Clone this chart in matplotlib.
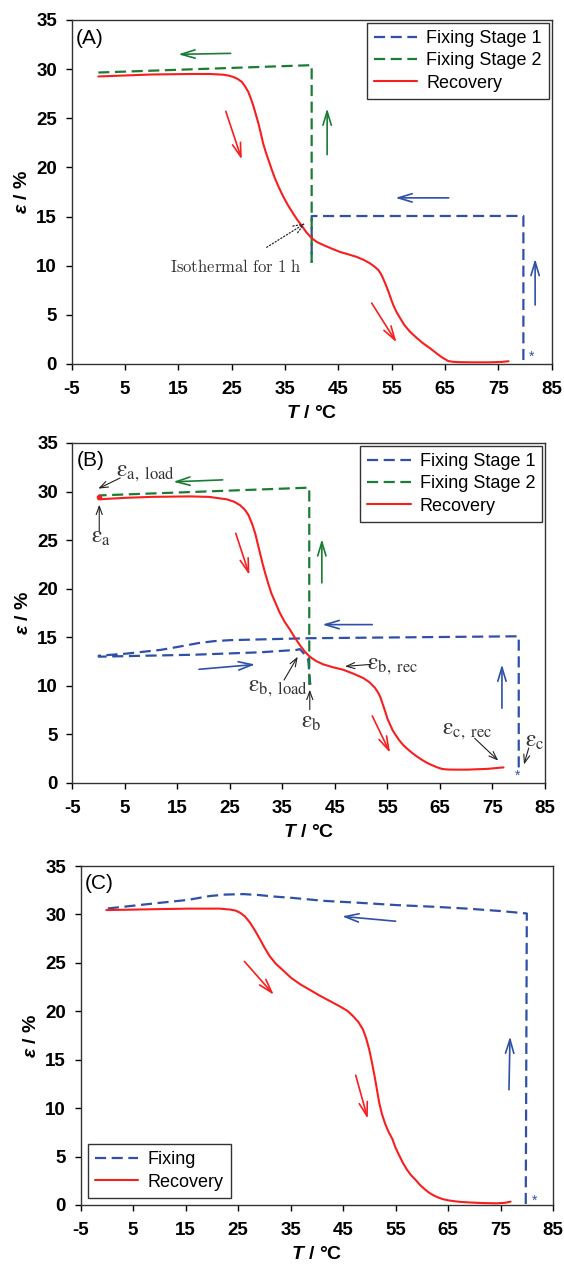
import matplotlib
matplotlib.use("Agg")
import matplotlib.pyplot as plt

plt.rcParams['font.family'] = ['Liberation Sans', 'DejaVu Sans']
plt.rcParams['axes.unicode_minus'] = False
plt.rcParams['mathtext.fontset'] = 'custom'
plt.rcParams['mathtext.rm'] = 'Liberation Sans:bold'
plt.rcParams['mathtext.it'] = 'Liberation Sans:italic:bold'
plt.rcParams['mathtext.bf'] = 'Liberation Sans:bold'

BLUE = '#3050A8'
GREEN = '#1B7C34'
RED = '#F81E1E'

# ---- panel A ----
a_fix1_T = [79.7, 79.7, 40, 40]
a_fix1_e = [0.4, 15.06, 15.05, 10.3]
a_fix2_T = [40, 40, 0]
a_fix2_e = [10.3, 30.4, 29.65]
a_rec_T = [0, 5, 10, 17.2, 21, 23.4, 24.5, 25.3, 26.1, 26.9, 27.5, 28.1, 28.6, 29.1,
           29.55, 30.0, 30.45, 30.9, 31.4, 31.9, 32.5, 33.1, 33.9, 34.7, 35.5, 36.3,
           37.2, 38.1, 39.0, 40.0, 41.0, 42.2, 43.7, 45.3, 46.9, 48.4, 49.7, 50.9,
           51.8, 52.5, 53.0, 53.4, 53.9, 54.4, 54.85, 55.3, 55.9, 56.6, 57.4, 58.4,
           59.6, 60.9, 62.2, 63.4, 64.5, 65.6, 66.5, 67.5, 69.7, 73.4, 75.5, 76.9]
a_rec_e = [29.25, 29.35, 29.45, 29.5, 29.5, 29.43, 29.33, 29.2, 29.0, 28.7, 28.25, 27.7,
           27.0, 26.2, 25.35, 24.5, 23.5, 22.45, 21.55, 20.75, 19.8, 18.9, 17.9, 17.0,
           16.2, 15.5, 14.75, 14.1, 13.4, 12.8, 12.4, 12.1, 11.75, 11.4, 11.15, 10.9,
           10.6, 10.25, 9.9, 9.56, 9.15, 8.7, 8.05, 7.36, 6.65, 6.0, 5.3, 4.65, 3.95,
           3.3, 2.7, 2.1, 1.6, 1.09, 0.65, 0.3, 0.22, 0.19, 0.17, 0.17, 0.2, 0.28]

# ---- panel B ----
b_fix1_T = [80, 80, 40, 25, 22, 19, 15, 11.8, 5, 0, 0, 18.1, 30.7, 37.7, 38.3, 39.0,
            39.9, 40.3]
b_fix1_e = [1.6, 15.1, 14.9, 14.7, 14.6, 14.4, 14.0, 13.7, 13.3, 13.1, 13.0, 13.2, 13.45,
            13.7, 13.78, 13.37, 12.7, 10.1]
b_fix2_T = [40.1, 40.1, 0]
b_fix2_e = [10.1, 30.4, 29.6]
b_rec_T = [0, 5, 10, 17.4, 21, 24.4, 25.8, 26.9, 27.8, 28.5, 29.2, 29.8, 30.25, 30.7,
           31.2, 31.7, 32.3, 32.9, 33.7, 34.5, 35.4, 36.4, 37.3, 38.3, 39.2, 40.2,
           41.4, 42.8, 44.7, 46.6, 48.5, 50.4, 51.6, 52.6, 53.1, 53.6, 54.1, 54.6,
           55.0, 55.5, 56.0, 56.6, 57.3, 58.0, 58.9, 59.9, 60.8, 61.8, 62.6, 63.4,
           64.4, 65.4, 66.5, 68, 70.2, 74, 77.1]
b_rec_e = [29.2, 29.35, 29.45, 29.5, 29.45, 29.2, 28.95, 28.6, 28.15, 27.6, 26.7, 25.7,
           24.7, 23.7, 22.6, 21.6, 20.5, 19.5, 18.5, 17.5, 16.6, 15.8, 15.0, 14.2,
           13.55, 13.0, 12.55, 12.2, 11.9, 11.65, 11.25, 10.8, 10.35, 9.8, 9.4, 8.9,
           8.1, 7.3, 6.6, 6.0, 5.4, 4.9, 4.35, 3.9, 3.45, 3.0, 2.65, 2.3, 2.05, 1.85,
           1.62, 1.44, 1.38, 1.37, 1.37, 1.45, 1.6]

# ---- panel C ----
c_fix_T = [79.8, 80, 75, 68.7, 62, 55.0, 48.2, 41.4, 35.5, 31.8, 29, 26.0, 22.5, 19.6,
           15.4, 10.1, 5, -0.1]
c_fix_e = [0.1, 30.1, 30.35, 30.6, 30.8, 30.97, 31.2, 31.4, 31.7, 31.85, 32.0, 32.1,
           32.05, 31.9, 31.5, 31.2, 30.9, 30.6]
c_rec_T = [-0.1, 5, 10, 15.8, 21.5, 23.5, 24.5, 25.3, 26.3, 27.2, 28.2, 29.1, 30.0, 31.0,
           32.2, 33.6, 35.1, 36.8, 38.7, 40.6, 42.5, 44.4, 45.8, 46.9, 47.9, 48.8,
           49.4, 50.0, 50.5, 51.0, 51.45, 51.9, 52.4, 53.0, 53.7, 54.4, 55.0, 55.7,
           56.4, 57.1, 57.9, 58.8, 59.6, 60.5, 61.3, 62.2, 63.0, 63.9, 65.0, 66.0,
           67.3, 68.7, 71.5, 74.2, 75.8, 76.9]
c_rec_e = [30.45, 30.5, 30.55, 30.6, 30.6, 30.5, 30.4, 30.2, 29.8, 29.2, 28.35, 27.5,
           26.6, 25.7, 24.9, 24.2, 23.45, 22.8, 22.2, 21.6, 21.05, 20.5, 20.05, 19.5,
           18.9, 18.1, 17.2, 16.0, 14.7, 13.3, 11.9, 10.5, 9.4, 8.4, 7.5, 6.8, 5.9,
           5.1, 4.35, 3.7, 3.1, 2.6, 2.1, 1.65, 1.3, 1.0, 0.8, 0.62, 0.48, 0.4, 0.32,
           0.27, 0.2, 0.17, 0.22, 0.34]

x_ticks = list(range(-5, 90, 10))
y_ticks = list(range(0, 40, 5))

# arrows: (tail, tip, colour)
a_arrows = [((24.8, 31.6), (15.0, 31.5), GREEN), ((42.9, 21.3), (42.9, 26.0), GREEN),
            ((23.9, 25.7), (26.9, 20.8), RED), ((65.7, 16.9), (55.7, 16.9), BLUE),
            ((81.9, 6.0), (81.9, 10.7), BLUE), ((51.25, 6.2), (55.9, 2.2), RED)]
b_arrows = [((23.6, 31.2), (14.2, 31.0), GREEN), ((42.5, 20.6), (42.5, 25.1), GREEN),
            ((26.1, 25.7), (28.7, 21.4), RED), ((52.1, 16.3), (42.6, 16.3), BLUE),
            ((19.1, 11.7), (29.8, 12.2), BLUE), ((52.1, 6.9), (55.5, 3.1), RED),
            ((76.8, 7.7), (76.8, 12.2), BLUE)]
c_arrows = [((55.0, 29.3), (44.8, 29.8), BLUE), ((26.2, 25.15), (31.8, 21.7), RED),
            ((47.4, 13.4), (49.7, 8.9), RED), ((76.6, 11.9), (76.8, 17.4), BLUE)]

# labels in panel B: (text, text pos, arrow tail, arrow tip)
b_notes = [(r'$\mathrm{\varepsilon}_{\mathrm{a,\ load}}$', (9.0, 31.9), (4.1, 31.4), (-0.1, 30.3)),
           (r'$\mathrm{\varepsilon}_{\mathrm{a}}$', (0.4, 25.3), (0.1, 25.9), (0.1, 28.65)),
           (r'$\mathrm{\varepsilon}_{\mathrm{b,\ load}}$', (34.2, 9.8), (35.3, 10.6), (37.9, 13.0)),
           (r'$\mathrm{\varepsilon}_{\mathrm{b}}$', (40.4, 6.3), (40.2, 7.55), (40.2, 9.6)),
           (r'$\mathrm{\varepsilon}_{\mathrm{b,\ rec}}$', (56.0, 12.0), (51.7, 12.2), (46.9, 12.0)),
           (r'$\mathrm{\varepsilon}_{\mathrm{c,\ rec}}$', (70.2, 5.3), (71.6, 4.6), (76.1, 2.3)),
           (r'$\mathrm{\varepsilon}_{\mathrm{c}}$', (83.0, 4.3), (81.9, 3.6), (81.0, 1.9))]


def style_axes(ax, letter):
    ax.set_xlim(-5, 85)
    ax.set_ylim(0, 35)
    ax.set_xticks(x_ticks)
    ax.set_yticks(y_ticks)
    ax.tick_params(direction='out', length=4.5, width=1, labelsize=13.5)
    ax.tick_params(axis='x', pad=8)
    ax.tick_params(axis='y', pad=6)
    for lab in ax.get_xticklabels() + ax.get_yticklabels():
        lab.set_fontweight('bold')
    for sp in ax.spines.values():
        sp.set_color('#333333')
        sp.set_linewidth(1.0)
    ax.set_xlabel(r'$T$ / °C', fontsize=14, fontweight='bold', labelpad=5)
    ax.set_ylabel(r'$\varepsilon$ / %', fontsize=14, fontweight='bold', labelpad=4)
    ax.text(0.008, 0.975, letter, transform=ax.transAxes, fontsize=15, va='top', ha='left')


def draw_arrows(ax, arrows):
    for tail, tip, col in arrows:
        ax.annotate('', xy=tip, xytext=tail,
                    arrowprops=dict(arrowstyle='->,head_length=1.0,head_width=0.3',
                                    color=col, lw=1.2, shrinkA=0, shrinkB=0))


def add_legend(ax, loc, pad):
    leg = ax.legend(loc=loc, fontsize=13, frameon=True, fancybox=False,
                    edgecolor='black', borderaxespad=pad, handlelength=2.4,
                    labelspacing=0.3, handletextpad=0.5, borderpad=0.4)
    leg.get_frame().set_linewidth(1.0)


fig = plt.figure(figsize=(5.64, 12.7), dpi=100)
axA = fig.add_axes([0.1271, 0.7134, 0.851, 0.2709])
axB = fig.add_axes([0.1285, 0.3835, 0.8378, 0.2677])
axC = fig.add_axes([0.1430, 0.0512, 0.8376, 0.2669])

dash = (5, 2.5)
lw_d = 1.6
lw_r = 1.5
rec_kw = dict(color=RED, lw=lw_r, solid_joinstyle='round', solid_capstyle='round')

# A
axA.plot(a_fix1_T, a_fix1_e, color=BLUE, lw=lw_d, dashes=dash, label='Fixing Stage 1')
axA.plot(a_fix2_T, a_fix2_e, color=GREEN, lw=lw_d, dashes=dash, label='Fixing Stage 2')
axA.plot(a_rec_T, a_rec_e, '-', label='Recovery', **rec_kw)
axA.text(81.25, 0.75, '*', color=BLUE, fontsize=10, ha='center', va='center')
draw_arrows(axA, a_arrows)
axA.annotate(r'$\mathrm{Isothermal\ for\ 1\ h}$', xy=(38.75, 14.3), xytext=(25.75, 9.9),
             ha='center', va='center', fontsize=12, color='#333333', math_fontfamily='cm',
             arrowprops=dict(arrowstyle='->,head_length=0.6,head_width=0.25', ls=':',
                             color='#222222', lw=0.9, shrinkA=11, shrinkB=0))
style_axes(axA, '(A)')
add_legend(axA, 'upper right', 0.15)

# B
axB.plot(b_fix1_T, b_fix1_e, color=BLUE, lw=lw_d, dashes=dash, label='Fixing Stage 1')
axB.plot(b_fix2_T, b_fix2_e, color=GREEN, lw=lw_d, dashes=dash, label='Fixing Stage 2')
axB.plot(b_rec_T, b_rec_e, '-', label='Recovery', **rec_kw)
axB.plot([b_rec_T[0]], [b_rec_e[0] + 0.2], 'o', color=RED, ms=3)
axB.text(79.8, 0.75, '*', color=BLUE, fontsize=10, ha='center', va='center')
draw_arrows(axB, b_arrows)
for txt, pos, tail, tip in b_notes:
    axB.text(pos[0], pos[1], txt, ha='center', va='center', fontsize=17, color='#333333',
             math_fontfamily='stix')
    axB.annotate('', xy=tip, xytext=tail,
                 arrowprops=dict(arrowstyle='->,head_length=0.6,head_width=0.22',
                                 color='#222222', lw=0.8, shrinkA=0, shrinkB=0))
style_axes(axB, '(B)')
add_legend(axB, 'upper right', 0.15)

# C
axC.plot(c_fix_T, c_fix_e, color=BLUE, lw=lw_d, dashes=dash, label='Fixing')
axC.plot(c_rec_T, c_rec_e, '-', label='Recovery', **rec_kw)
axC.text(81.4, 0.45, '*', color=BLUE, fontsize=10, ha='center', va='center')
draw_arrows(axC, c_arrows)
style_axes(axC, '(C)')
add_legend(axC, 'lower left', 0.4)

fig.savefig('out.png', dpi=100)
